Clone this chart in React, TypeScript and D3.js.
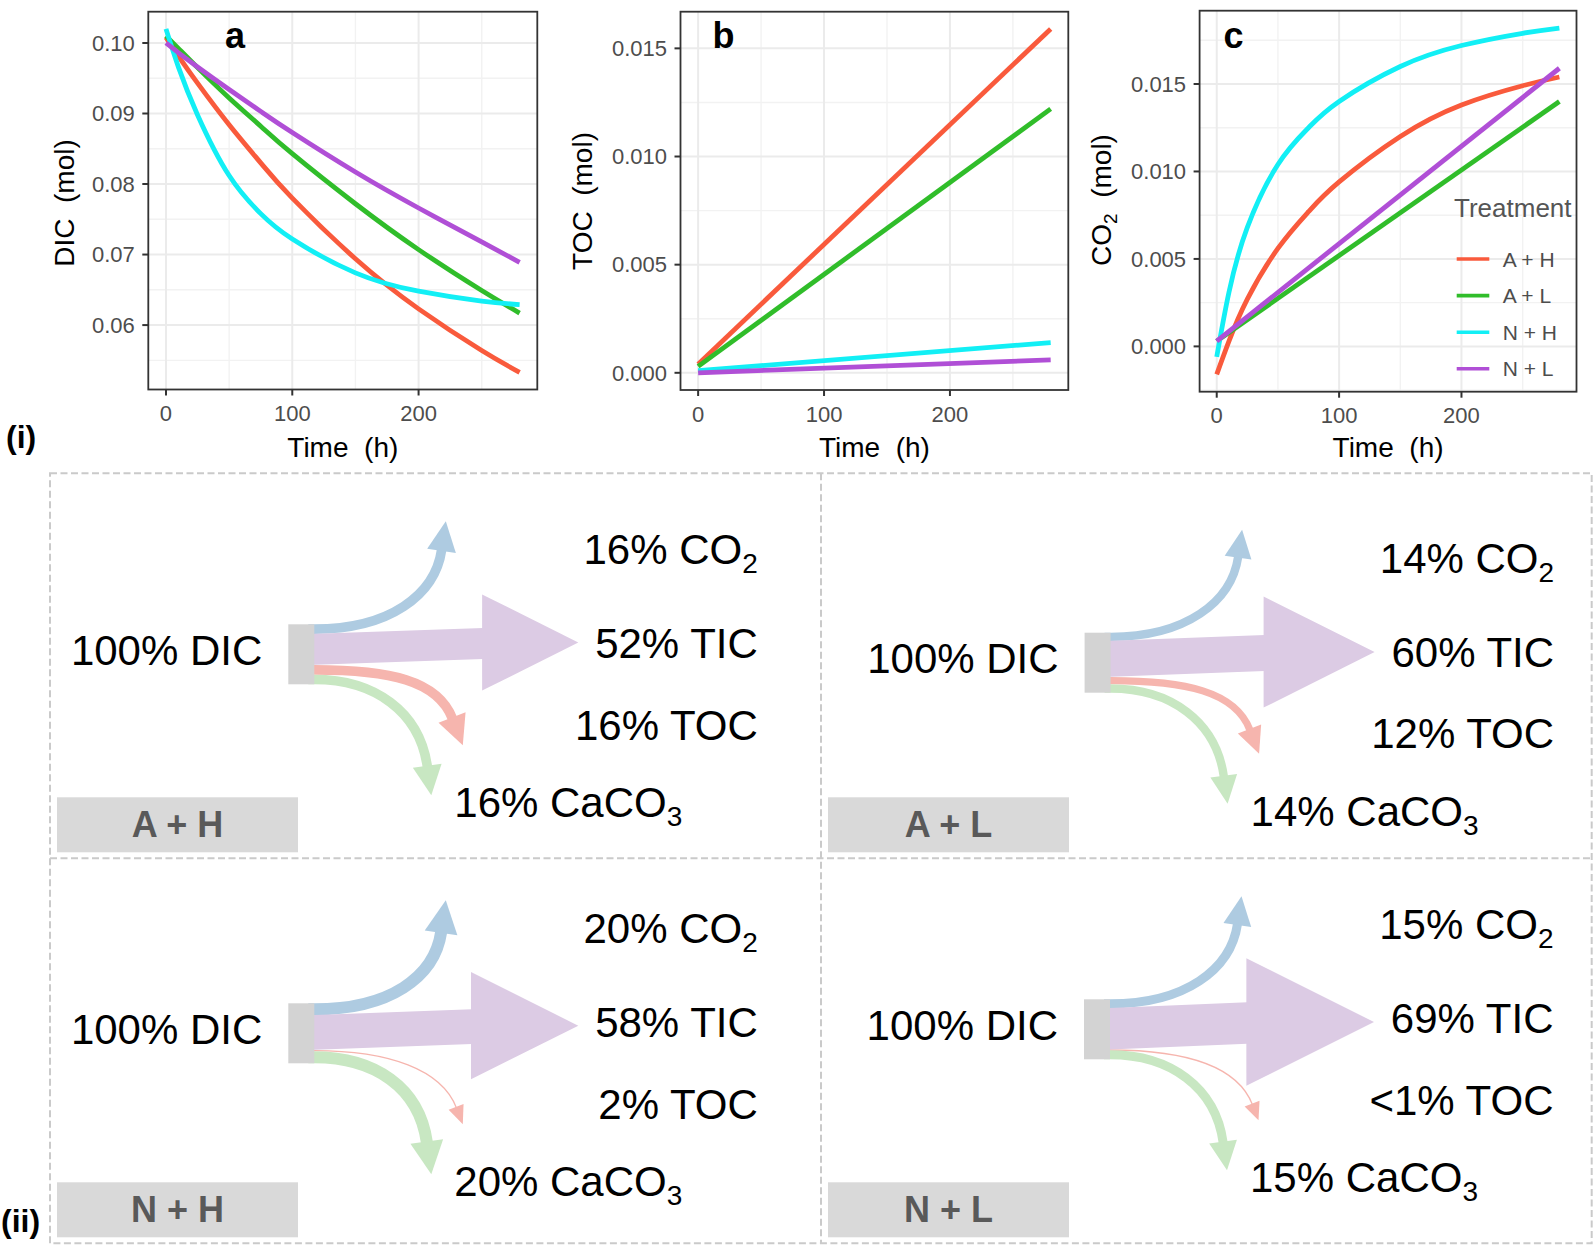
import * as d3 from "d3";

const FONT = "'Liberation Sans', Arial, Helvetica, sans-serif";

// ---- panel (i) data ----
const timeGrid = [0, 10, 25, 50, 75, 100, 150, 200, 250, 280];
const timeEnds = [0, 280];

const dicAH = [0.1008, 0.0981, 0.0943, 0.0884, 0.083, 0.078, 0.0694, 0.0623, 0.0564, 0.0533];
const dicAL = [0.101, 0.0992, 0.0965, 0.0922, 0.0882, 0.0843, 0.0772, 0.0707, 0.0649, 0.0617];
const dicNH = [0.102, 0.0965, 0.0898, 0.0812, 0.0758, 0.0722, 0.0674, 0.0648, 0.0634, 0.0629];
const dicNL = [0.1, 0.0986, 0.0966, 0.0934, 0.0903, 0.0873, 0.0817, 0.0766, 0.0718, 0.0689];

const tocAH = [0.0004, 0.0159];
const tocAL = [0.0003, 0.0122];
const tocNH = [0.0001, 0.0014];
const tocNL = [0.0, 0.0006];

const co2AH = [-0.0016, 0.0003, 0.0027, 0.0056, 0.0077, 0.0094, 0.012, 0.0138, 0.0149, 0.0154];
const co2AL = [0.0003, 0.014];
const co2NH = [-0.0006, 0.0031, 0.0068, 0.0104, 0.0125, 0.014, 0.016, 0.0172, 0.0179, 0.0182];
const co2NL = [0.0003, 0.0159];

const treatments = ["A + H", "A + L", "N + H", "N + L"];
const treatmentColors = ["#F95A3C", "#30BD2A", "#12EFF5", "#B04FD6"];

const xTicks = [0, 100, 200];
const dicTicks = [0.06, 0.07, 0.08, 0.09, 0.1];
const carbonTicks = [0, 0.005, 0.01, 0.015];

// ---- panel (ii) data: share of initial DIC (%) ----
const co2Share = [16, 14, 20, 15];
const ticShare = [52, 60, 58, 69];
const tocShare = [16, 12, 2, 1];
const tocShareLabel = ["16%", "12%", "2%", "<1%"];
const caco3Share = [16, 14, 20, 15];

type Series = { t: number[]; v: number[] };
type Box = { left: number; right: number; top: number; bottom: number };

const panels = [
  {
    letter: "a", letterX: 225, box: { left: 148.3, right: 537.3, top: 11.7, bottom: 389.5 },
    ticks: dicTicks, fmt: d3.format(".2f"), title: "DIC", sub: "", titleX: 74, titleY: 203,
    series: [
      { t: timeGrid, v: dicAH }, { t: timeGrid, v: dicAL },
      { t: timeGrid, v: dicNH }, { t: timeGrid, v: dicNL },
    ],
  },
  {
    letter: "b", letterX: 712.5, box: { left: 680.5, right: 1068.3, top: 11.7, bottom: 390 },
    ticks: carbonTicks, fmt: d3.format(".3f"), title: "TOC", sub: "", titleX: 592, titleY: 201,
    series: [
      { t: timeEnds, v: tocAH }, { t: timeEnds, v: tocAL },
      { t: timeEnds, v: tocNH }, { t: timeEnds, v: tocNL },
    ],
  },
  {
    letter: "c", letterX: 1223.5, box: { left: 1199.6, right: 1576.5, top: 10.7, bottom: 391.7 },
    ticks: carbonTicks, fmt: d3.format(".3f"), title: "CO", sub: "2", titleX: 1111, titleY: 200,
    series: [
      { t: timeGrid, v: co2AH }, { t: timeEnds, v: co2AL },
      { t: timeGrid, v: co2NH }, { t: timeEnds, v: co2NL },
    ],
  },
];

function padded(lo: number, hi: number): [number, number] {
  const p = (hi - lo) * 0.05;
  return [lo - p, hi + p];
}

function Panel({ cfg, legend }: { cfg: any; legend?: boolean }) {
  const box: Box = cfg.box;
  const series: Series[] = cfg.series;
  const allT = series.flatMap((s) => s.t);
  const allV = series.flatMap((s) => s.v);
  const x = d3.scaleLinear().domain(padded(d3.min(allT)!, d3.max(allT)!)).range([box.left, box.right]);
  const y = d3.scaleLinear().domain(padded(d3.min(allV)!, d3.max(allV)!)).range([box.bottom, box.top]);
  const [x0, x1] = x.domain();
  const [y0, y1] = y.domain();

  const yStep = cfg.ticks[1] - cfg.ticks[0];
  const minorY = d3.range(-10, 12).map((k) => cfg.ticks[0] + (k + 0.5) * yStep).filter((v) => v > y0 && v < y1);
  const xStep = xTicks[1] - xTicks[0];
  const minorX = d3.range(-3, 6).map((k) => (k + 0.5) * xStep).filter((v) => v > x0 && v < x1);

  const line = d3.line<[number, number]>().x((d) => x(d[0])).y((d) => y(d[1])).curve(d3.curveNatural);

  return (
    <g>
      <rect x={box.left} y={box.top} width={box.right - box.left} height={box.bottom - box.top} fill="#fff" />
      {minorY.map((v) => (
        <line key={"my" + v} x1={box.left} x2={box.right} y1={y(v)} y2={y(v)} stroke="#F2F2F2" strokeWidth={1.4} />
      ))}
      {minorX.map((v) => (
        <line key={"mx" + v} y1={box.top} y2={box.bottom} x1={x(v)} x2={x(v)} stroke="#F2F2F2" strokeWidth={1.4} />
      ))}
      {cfg.ticks.map((v: number) => (
        <line key={"gy" + v} x1={box.left} x2={box.right} y1={y(v)} y2={y(v)} stroke="#EBEBEB" strokeWidth={2} />
      ))}
      {xTicks.map((v) => (
        <line key={"gx" + v} y1={box.top} y2={box.bottom} x1={x(v)} x2={x(v)} stroke="#EBEBEB" strokeWidth={2} />
      ))}
      {series.map((s, i) => (
        <path
          key={"s" + i}
          d={line(s.t.map((t, j) => [t, s.v[j]] as [number, number])) || ""}
          fill="none"
          stroke={treatmentColors[i]}
          strokeWidth={4.8}
        />
      ))}
      <rect x={box.left} y={box.top} width={box.right - box.left} height={box.bottom - box.top} fill="none" stroke="#333" strokeWidth={1.8} />
      {cfg.ticks.map((v: number) => (
        <g key={"ty" + v}>
          <line x1={box.left - 6} x2={box.left} y1={y(v)} y2={y(v)} stroke="#333" strokeWidth={2} />
          <text x={box.left - 13.5} y={y(v) + 7.7} textAnchor="end" fontSize={22} fill="#4D4D4D">
            {cfg.fmt(v)}
          </text>
        </g>
      ))}
      {xTicks.map((v) => (
        <g key={"tx" + v}>
          <line y1={box.bottom} y2={box.bottom + 6} x1={x(v)} x2={x(v)} stroke="#333" strokeWidth={2} />
          <text x={x(v)} y={box.bottom + 31.5} textAnchor="middle" fontSize={22} fill="#4D4D4D">
            {v}
          </text>
        </g>
      ))}
      <text x={(box.left + box.right) / 2} y={456.7} textAnchor="middle" fontSize={28} fill="#000" style={{ whiteSpace: "pre" }}>
        {"Time  (h)"}
      </text>
      <text
        transform={`translate(${cfg.titleX},${cfg.titleY}) rotate(-90)`}
        textAnchor="middle"
        fontSize={28}
        fill="#000"
        style={{ whiteSpace: "pre" }}
      >
        <tspan>{cfg.title}</tspan>
        {cfg.sub ? (
          <>
            <tspan fontSize={19} dy={6}>{cfg.sub}</tspan>
            <tspan dy={-6}>{"  (mol)"}</tspan>
          </>
        ) : (
          <tspan>{"  (mol)"}</tspan>
        )}
      </text>
      <text x={cfg.letterX} y={48.3} fontSize={36} fontWeight="bold" fill="#000">
        {cfg.letter}
      </text>
      {legend && (
        <g>
          <text x={1454} y={217.3} fontSize={26} fill="#555">Treatment</text>
          {treatments.map((t, i) => (
            <g key={t}>
              <line x1={1456.7} x2={1489.3} y1={259 + i * 36.6} y2={259 + i * 36.6} stroke={treatmentColors[i]} strokeWidth={3.6} />
              <text x={1502.7} y={266.5 + i * 36.6} fontSize={21} fill="#4D4D4D">{t}</text>
            </g>
          ))}
        </g>
      )}
    </g>
  );
}

// ---- panel (ii) layout ----
const cellX = [50, 821, 1591.7];
const cellY = [473.3, 858.3, 1243.3];
const sourcePos = [
  [288.3, 624.3],
  [1084.6, 632.7],
  [288.3, 1003.3],
  [1084, 999.3],
];

const flowColors = { co2: "#AECBE1", tic: "#DCCBE4", toc: "#F6B5AE", caco3: "#C8E7C2" };

function norm(v: [number, number]): [number, number] {
  const l = Math.hypot(v[0], v[1]);
  return [v[0] / l, v[1] / l];
}

function CurvedArrow({ start, tip, dir, band, pct, c1, c2, color }: any) {
  const d = norm(dir);
  const headW = Math.max(16, 13 + pct);
  const headL = 17 + 0.8 * pct;
  const B: [number, number] = [tip[0] - d[0] * headL, tip[1] - d[1] * headL];
  const p = d3.path();
  p.moveTo(start[0] - 6, start[1]);
  p.lineTo(start[0], start[1]);
  p.bezierCurveTo(start[0] + c1, start[1], B[0] - d[0] * c2, B[1] - d[1] * c2, B[0] + d[0], B[1] + d[1]);
  const n = [-d[1], d[0]];
  const head = [
    [B[0] + (n[0] * headW) / 2, B[1] + (n[1] * headW) / 2],
    tip,
    [B[0] - (n[0] * headW) / 2, B[1] - (n[1] * headW) / 2],
  ];
  return (
    <g>
      <path d={p.toString()} fill="none" stroke={color} strokeWidth={Math.max(1.3, band)} />
      <polygon points={head.map((q) => q.join(",")).join(" ")} fill={color} />
    </g>
  );
}

function FlowCell({ i }: { i: number }) {
  const cx = cellX[i % 2];
  const cy = cellY[Math.floor(i / 2)];
  const [sx, sy] = sourcePos[i];
  const w = d3.scaleLinear().domain([0, 100]).range([0, 60]);
  const head = d3.scaleLinear().domain([0, 100]).range([0, 185]);
  const srcW = 26;
  const rx = sx + srcW;

  const wb = w(co2Share[i]);
  const wp = w(ticShare[i]);
  const wr = w(tocShare[i]);
  const wg = w(caco3Share[i]);

  const pMid = sy + wb + wp / 2;
  const hL = head(ticShare[i]);
  const tipX = rx + 264;
  const tipY = pMid - 7;
  const baseX = tipX - hL;
  const shaft = [
    [rx - 6, pMid - wp / 2],
    [baseX + 1, pMid - 6 - wp / 2],
    [baseX + 1, pMid - 6 + wp / 2],
    [rx - 6, pMid + wp / 2],
  ];
  const headPts = [
    [baseX, tipY - hL / 2],
    [tipX, tipY],
    [baseX, tipY + hL / 2],
  ];

  const labelSize = 42;
  return (
    <g>
      <CurvedArrow start={[rx, sy + wb / 2]} tip={[rx + 131.5, sy - 103]} dir={[0.144, -0.99]} band={wb} pct={co2Share[i]} c1={75} c2={45} color={flowColors.co2} />
      <CurvedArrow start={[rx, sy + wb + wp + wr / 2]} tip={[rx + 148.5, sy + 121]} dir={[0.36, 0.93]} band={wr} pct={tocShare[i]} c1={75} c2={40} color={flowColors.toc} />
      <CurvedArrow start={[rx, sy + wb + wp + wr + wg / 2]} tip={[rx + 117, sy + 171]} dir={[0.137, 0.99]} band={wg} pct={caco3Share[i]} c1={60} c2={55} color={flowColors.caco3} />
      <polygon points={shaft.map((q) => q.join(",")).join(" ")} fill={flowColors.tic} />
      <polygon points={headPts.map((q) => q.join(",")).join(" ")} fill={flowColors.tic} />
      <rect x={sx} y={sy} width={srcW} height={w(100)} fill="#D3D3D3" />

      <text x={sx - 26} y={sy + 40.7} textAnchor="end" fontSize={labelSize} fill="#000">100% DIC</text>
      <text x={sx + 469.5} y={sy - 60} textAnchor="end" fontSize={labelSize} fill="#000">
        {`${co2Share[i]}% CO`}
        <tspan fontSize={28} dy={9}>2</tspan>
      </text>
      <text x={sx + 469.5} y={sy + 34} textAnchor="end" fontSize={labelSize} fill="#000">{`${ticShare[i]}% TIC`}</text>
      <text x={sx + 469.5} y={sy + 115.7} textAnchor="end" fontSize={labelSize} fill="#000">{`${tocShareLabel[i]} TOC`}</text>
      <text x={sx + 166} y={sy + 193} fontSize={labelSize} fill="#000">
        {`${caco3Share[i]}% CaCO`}
        <tspan fontSize={28} dy={9}>3</tspan>
      </text>

      <rect x={cx + 7} y={cy + 324} width={241} height={55} fill="#D9D9D9" />
      <text x={cx + 7 + 120.5} y={cy + 324 + 39.5} textAnchor="middle" fontSize={36} fontWeight="bold" fill="#595959">
        {treatments[i]}
      </text>
    </g>
  );
}

export default function App() {
  return (
    <div>
      <style>{`body{margin:0}`}</style>
      <svg width={1594} height={1247} style={{ display: "block", fontFamily: FONT }} xmlns="http://www.w3.org/2000/svg">
        <rect width={1594} height={1247} fill="#fff" />
        {panels.map((p, i) => (
          <Panel key={p.letter} cfg={p} legend={i === 2} />
        ))}
        <text x={6} y={448.3} fontSize={32} fontWeight="bold" fill="#000">(i)</text>

        <g fill="none" stroke="#CACACA" strokeWidth={2} strokeDasharray="7 3.5">
          <rect x={cellX[0]} y={cellY[0]} width={cellX[2] - cellX[0]} height={cellY[2] - cellY[0]} />
          <line x1={cellX[1]} x2={cellX[1]} y1={cellY[0]} y2={cellY[2]} />
          <line x1={cellX[0]} x2={cellX[2]} y1={cellY[1]} y2={cellY[1]} />
        </g>
        {treatments.map((t, i) => (
          <FlowCell key={t} i={i} />
        ))}
        <text x={1} y={1231.6} fontSize={32} fontWeight="bold" fill="#000">(ii)</text>
      </svg>
    </div>
  );
}
